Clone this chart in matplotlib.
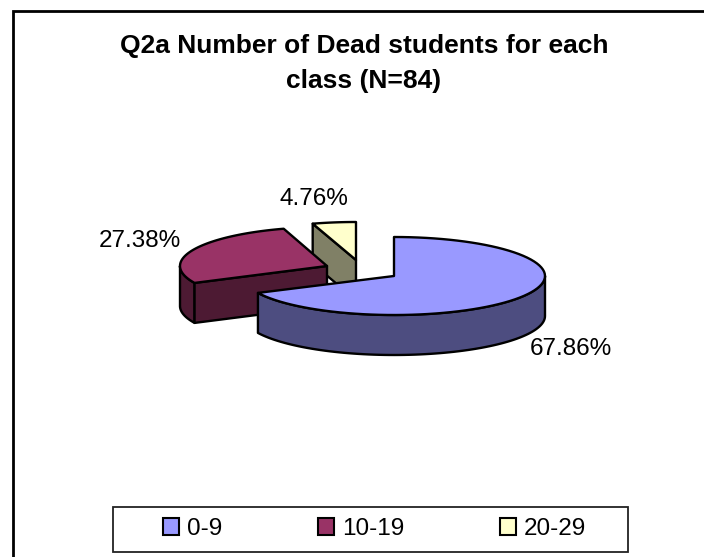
import numpy as np
import matplotlib
matplotlib.use('Agg')
import matplotlib.pyplot as plt
from matplotlib.patches import Polygon, Rectangle, Patch

classes = ['0-9', '10-19', '20-29']
shares = [67.86, 27.38, 4.76]
share_labels = ['67.86%', '27.38%', '4.76%']
title_lines = ['Q2a Number of Dead students for each', 'class (N=84)']

top_colors = ['#9999FF', '#993366', '#FFFFCC']
side_colors = ['#4D4D80', '#4D1A33', '#808066']

plt.rcParams['font.family'] = ['Liberation Sans', 'DejaVu Sans']

# tip of every slice in pixels, the pie is exploded
tips = [(394, 276), (327, 266), (356, 260)]
radii = [(151, 39), (147, 39), (147, 38)]
depth = 40


def rim(tip, radius, a0, a1):
    # angles clockwise from 12 o'clock, in degrees
    a = np.radians(np.linspace(a0, a1, 80))
    return np.column_stack([tip[0] + radius[0] * np.sin(a), tip[1] - radius[1] * np.cos(a)])


def add_poly(ax, pts, color):
    ax.add_patch(Polygon(pts, closed=True, facecolor=color, edgecolor='black', lw=1.7, joinstyle='round'))


fig = plt.figure(figsize=(7.04, 5.57), dpi=100)
ax = fig.add_axes([0, 0, 1, 1])
ax.set_xlim(0, 704)
ax.set_ylim(557, 0)
ax.axis('off')

# only the top and left of the chart border are inside the picture
ax.plot([12.5, 12.5, 704], [557, 10.5, 10.5], color='black', lw=2, solid_joinstyle='miter')

edges = np.concatenate([[0], np.cumsum(shares)]) / sum(shares) * 360
down = np.array([0, depth])

# 20-29, radial face then top
i = 2
tip = np.array(tips[i])
corner = rim(tip, radii[i], edges[i], edges[i])[0]
add_poly(ax, [corner, tip, tip + down, corner + down], side_colors[i])
add_poly(ax, np.vstack([[tip], rim(tip, radii[i], edges[i], edges[i + 1])]), top_colors[i])

# 10-19, outer wall, radial face, top
i = 1
tip = np.array(tips[i])
arc = rim(tip, radii[i], edges[i], 270)
add_poly(ax, np.vstack([arc, (arc + down)[::-1]]), side_colors[i])
add_poly(ax, [arc[0], tip, tip + down, arc[0] + down], side_colors[i])
add_poly(ax, np.vstack([[tip], rim(tip, radii[i], edges[i], edges[i + 1])]), top_colors[i])

# 0-9, front wall then top
i = 0
tip = np.array(tips[i])
arc = rim(tip, radii[i], 90, edges[i + 1])
add_poly(ax, np.vstack([arc, (arc + down)[::-1]]), side_colors[i])
add_poly(ax, np.vstack([[tip], rim(tip, radii[i], edges[i], edges[i + 1])]), top_colors[i])

ax.text(571, 349, share_labels[0], fontsize=17.5, ha='center', va='center')
ax.text(139.5, 241, share_labels[1], fontsize=17.5, ha='center', va='center')
ax.text(314, 199, share_labels[2], fontsize=17.5, ha='center', va='center')

ax.text(364, 46, title_lines[0], fontsize=19, fontweight='bold', ha='center', va='center')
ax.text(364, 81, title_lines[1], fontsize=19, fontweight='bold', ha='center', va='center')

# legend box is wider on the left than the entries, so the frame is separate
ax.add_patch(Rectangle((112.5, 507), 515, 45, facecolor='white', edgecolor='#222222', lw=1.3))
handles = [Patch(facecolor=c, edgecolor='black', lw=1.5) for c in top_colors]
ax.legend(handles, classes, ncol=3, loc='center', bbox_to_anchor=(374.5, 529), bbox_transform=ax.transData,
          fontsize=17.5, frameon=False, handlelength=0.66, handleheight=0.66, handletextpad=0.33,
          columnspacing=3.95, borderpad=0, borderaxespad=0)

fig.savefig('out.png', dpi=100)
